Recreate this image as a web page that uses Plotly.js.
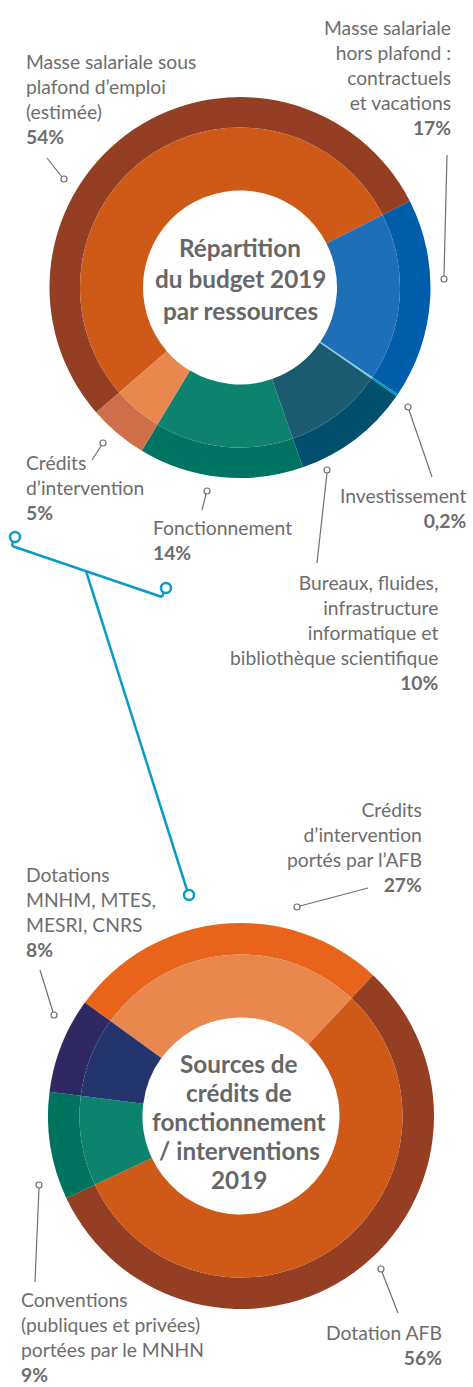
<!DOCTYPE html>
<html>
<head>
<meta charset="utf-8">
<script src="https://cdn.plot.ly/plotly-3.0.1.min.js"></script>
<style>
  html, body { margin: 0; padding: 0; background: #ffffff; }
  #chart { width: 473px; height: 1387px; }
</style>
</head>
<body>
<div id="chart"></div>
<script>
// ---------- DATA ----------
// Donut 1 : Répartition du budget 2019 par ressources
const budgetCategories = [
  "Masse salariale sous<br>plafond d’emploi<br>(estimée)",
  "Masse salariale<br>hors plafond :<br>contractuels<br>et vacations",
  "Investissement",
  "Bureaux, fluides,<br>infrastructure<br>informatique et<br>bibliothèque scientifique",
  "Fonctionnement",
  "Crédits<br>d’intervention"
];
const budgetValues = [54, 17, 0.2, 10, 14, 5];
const budgetTitle = ["Répartition", "du budget 2019", "par ressources"];

// Donut 2 : Sources de crédits de fonctionnement / interventions 2019
const sourcesCategories = [
  "Crédits<br>d’intervention<br>portés par l’AFB",
  "Dotation AFB",
  "Conventions<br>(publiques et privées)<br>portées par le MNHN",
  "Dotations<br>MNHM, MTES,<br>MESRI, CNRS"
];
const sourcesValues = [27, 56, 9, 8];
const sourcesTitle = ["Sources de", "crédits de", "fonctionnement", "/ interventions", "2019"];

// ---------- STYLE ----------
const W = 473, H = 1387;
const FONT = "Lato, 'Open Sans', sans-serif";
const GREY = "#6d6d6d";
const CYAN = "#0b9bc6";

const budgetOuterColors = ["#943f24", "#005daa", "#0098c9", "#004f6d", "#007363", "#cf6f49"];
const budgetInnerColors = ["#cf5a17", "#1e6fb8", "#7dcbd8", "#1b5b72", "#0c846d", "#e8884f"];
const sourcesOuterColors = ["#e9641b", "#943f24", "#00735f", "#2f2862"];
const sourcesInnerColors = ["#e8884e", "#cf5a17", "#0c846d", "#24356e"];

function pct(v) { return String(v).replace(".", ",") + "%"; }

// geometry helpers (pixel -> paper domain)
function dom(cx, cy, r) {
  return { x: [(cx - r) / W, (cx + r) / W], y: [1 - (cy + r) / H, 1 - (cy - r) / H] };
}

function ring(values, labels, colors, cx, cy, r, hole, rotation) {
  return {
    type: "pie", values: values, labels: labels, sort: false, direction: "clockwise",
    rotation: rotation, hole: hole, domain: dom(cx, cy, r),
    marker: { colors: colors, line: { width: 0 } },
    textinfo: "none", hoverinfo: "skip", showlegend: false
  };
}

const traces = [
  ring(budgetValues, budgetCategories, budgetOuterColors, 240, 287.5, 190.5, 160 / 190.5, 229),
  ring(budgetValues, budgetCategories, budgetInnerColors, 240, 287.5, 160, 97 / 160, 229),
  ring(sourcesValues, sourcesCategories, sourcesOuterColors, 241, 1116, 193, 161.5 / 193, 306),
  ring(sourcesValues, sourcesCategories, sourcesInnerColors, 241, 1116, 161.5, 98.5 / 161.5, 306)
];

// ---------- LABELS ----------
function label(text, value, x, y, anchor) {
  return {
    xref: "x", yref: "y", x: x, y: y, xanchor: anchor, yanchor: "middle",
    align: anchor, showarrow: false,
    text: text + "<br><b>" + pct(value) + "</b>",
    font: { family: FONT, size: 19.3, color: GREY }
  };
}
const annotations = [
  label(budgetCategories[0], budgetValues[0], 24, 98.5, "left"),
  label(budgetCategories[1], budgetValues[1], 453, 77.5, "right"),
  label(budgetCategories[2], budgetValues[2], 469, 507.5, "right"),
  label(budgetCategories[3], budgetValues[3], 441, 632, "right"),
  label(budgetCategories[4], budgetValues[4], 151, 539.5, "left"),
  label(budgetCategories[5], budgetValues[5], 24, 487, "left"),
  label(sourcesCategories[0], sourcesValues[0], 424, 846.5, "right"),
  label(sourcesCategories[1], sourcesValues[1], 444, 1345, "right"),
  label(sourcesCategories[2], sourcesValues[2], 19, 1336.5, "left"),
  label(sourcesCategories[3], sourcesValues[3], 24, 912, "left")
];
function centerTitle(lines, x, yFirst, step, size) {
  lines.forEach(function (t, i) {
    annotations.push({
      xref: "x", yref: "y", x: x, y: yFirst + i * step, xanchor: "center", yanchor: "middle",
      showarrow: false, text: "<b>" + t + "</b>",
      font: { family: FONT, size: size, color: "#676767" }
    });
  });
}
centerTitle(budgetTitle, 240, 247, 31.5, 24.3);
centerTitle(sourcesTitle, 239, 1063, 29, 24.3);

// ---------- LEADER LINES / DECORATION ----------
const shapes = [];
function leader(x0, y0, x1, y1, cx, cy) {
  shapes.push({ type: "line", xref: "x", yref: "y", x0: x0, y0: y0, x1: x1, y1: y1,
    line: { color: "#707070", width: 1.2 } });
  shapes.push({ type: "circle", xref: "x", yref: "y", x0: cx - 3, y0: cy - 3, x1: cx + 3, y1: cy + 3,
    fillcolor: "#ffffff", line: { color: "#707070", width: 1.2 } });
}
leader(47, 158, 62, 177, 64, 179);
leader(447, 155, 444, 276, 444, 279);
leader(432, 477, 409, 410, 408, 407);
leader(317, 563, 327, 473, 327, 470);
leader(202, 510, 206, 494, 207, 491);
leader(92, 460, 101, 446, 103, 443);
leader(368, 888, 300, 906, 297, 907);
leader(40, 970, 53, 1012, 54, 1015);
leader(35, 1282, 39, 1188, 39, 1185);
leader(398, 1313, 382, 1272, 381, 1269);

function cyanLine(x0, y0, x1, y1) {
  shapes.push({ type: "line", xref: "x", yref: "y", x0: x0, y0: y0, x1: x1, y1: y1,
    line: { color: CYAN, width: 2.5 } });
}
function cyanCircle(cx, cy) {
  shapes.push({ type: "circle", xref: "x", yref: "y", x0: cx - 5, y0: cy - 5, x1: cx + 5, y1: cy + 5,
    fillcolor: "#ffffff", line: { color: CYAN, width: 2.5 } });
}
cyanLine(12, 546, 162, 597);
cyanLine(12, 546, 13, 541);
cyanLine(162, 597, 164, 592);
cyanLine(86, 571, 187, 890);
cyanCircle(15, 537);
cyanCircle(166, 588);
cyanCircle(189, 895);

const layout = {
  width: W, height: H,
  margin: { l: 0, r: 0, t: 0, b: 0, pad: 0 },
  paper_bgcolor: "#ffffff", plot_bgcolor: "rgba(0,0,0,0)",
  xaxis: { range: [0, W], visible: false, fixedrange: true },
  yaxis: { range: [H, 0], visible: false, fixedrange: true },
  showlegend: false,
  annotations: annotations,
  shapes: shapes
};

Plotly.newPlot("chart", traces, layout, { displayModeBar: false, staticPlot: true });
</script>
</body>
</html>
